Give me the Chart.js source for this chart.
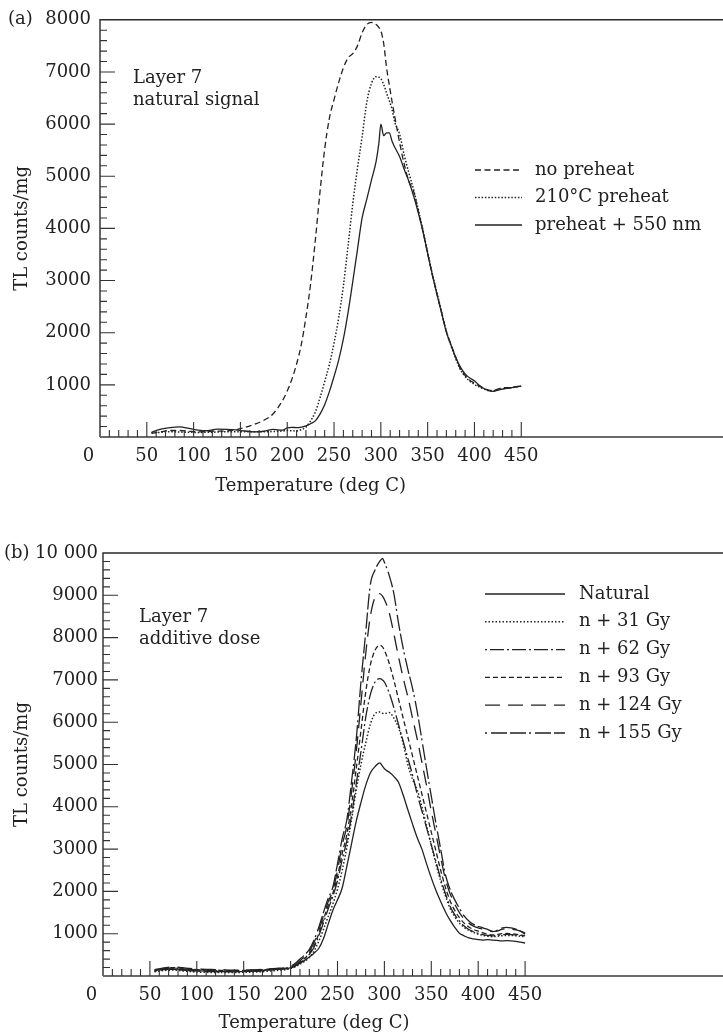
<!DOCTYPE html>
<html>
<head>
<meta charset="utf-8">
<script src="https://cdn.jsdelivr.net/npm/chart.js@4/dist/chart.umd.min.js"></script>
<style>
  body { margin: 0; background: #fff; }
  canvas { position: absolute; left: 0; }
  #chartA { top: 0; }
  #chartB { top: 520px; }
</style>
</head>
<body>
<canvas id="chartA" width="723" height="510"></canvas>
<canvas id="chartB" width="723" height="515"></canvas>
<script>
// Glow curves, layer 7 (TL counts/mg against temperature)

const xTickValues = [0, 50, 100, 150, 200, 250, 300, 350, 400, 450];

// (a) natural signal
const tempA = [55, 65, 75, 85, 95, 105, 115, 125, 135, 145, 155, 165, 175, 185, 195,
  200, 205, 210, 215, 220, 225, 230, 235, 240, 245, 250, 255, 260, 265, 270, 275, 280, 285, 290, 295,
  298, 300, 303, 306, 309, 312,
  315, 320, 325, 330, 335, 340, 345, 350, 355, 360, 365, 370, 375, 380, 385, 390, 395, 400, 405, 410,
  415, 420, 425, 430, 435, 440, 445, 450];

const noPreheat = [70, 100, 125, 125, 110, 100, 105, 113, 115, 140, 185, 245, 320, 447, 700,
  880, 1110, 1400, 1770, 2300, 2940, 3770, 4700, 5520, 6110, 6470, 6800, 7080, 7270, 7350, 7500, 7750, 7910, 7950, 7910,
  7850, 7790, 7550, 7100, 6750, 6430,
  6130, 5650, 5230, 4900, 4710, 4330, 3940, 3520, 3110, 2740, 2380, 2020, 1770, 1530, 1310, 1180, 1090, 1035, 980, 935,
  900, 890, 920, 945, 945, 950, 965, 985];

const preheat210 = [80, 90, 100, 95, 90, 88, 90, 95, 100, 100, 100, 100, 100, 105, 115,
  125, 120, 115, 140, 190, 310, 480, 750, 1060, 1390, 1800, 2290, 2900, 3670, 4470, 5150, 5760, 6420, 6780, 6910,
  6900, 6870, 6760, 6600, 6450, 6280,
  6030, 5810, 5400, 5060, 4740, 4360, 3970, 3540, 3130, 2760, 2390, 2030, 1750, 1500, 1290, 1160, 1070, 1010, 960, 920,
  890, 880, 905, 925, 935, 945, 960, 975];

const preheat550 = [90, 150, 180, 195, 165, 130, 120, 150, 145, 135, 115, 100, 110, 145, 130,
  175, 185, 180, 190, 215, 255, 310, 440, 620, 870, 1160, 1480, 1880, 2390, 2980, 3590, 4200, 4560, 4930, 5290,
  5650, 6000, 5780, 5830, 5830, 5670,
  5550, 5380, 5130, 4900, 4620, 4300, 3940, 3520, 3110, 2730, 2370, 2010, 1760, 1530, 1340, 1210, 1130, 1080, 990, 930,
  890, 875, 900, 920, 935, 945, 960, 975];

// (b) additive dose
const tempB = [55, 65, 75, 85, 95, 105, 115, 125, 135, 145, 155, 165, 175, 185, 195,
  200, 205, 210, 215, 220, 225, 230, 235, 240, 245, 250, 255, 260, 265, 270, 275, 280, 285, 290, 295,
  298,
  300, 305, 310, 315, 320, 325, 330, 335, 340, 345, 350, 355, 360, 365, 370, 375, 380, 385, 390, 395,
  400, 405, 410, 415, 420, 425, 430, 435, 440, 445, 450];

const natural = [130, 160, 170, 150, 130, 120, 115, 110, 110, 105, 110, 115, 140, 160, 170,
  200, 240, 300, 370, 450, 540, 650, 880, 1220, 1550, 1800, 2080, 2600, 3130, 3660, 4100, 4500, 4800, 4950, 5040,
  4960,
  4900, 4820, 4720, 4580, 4280, 3930, 3590, 3270, 3000, 2650, 2320, 2020, 1760, 1520, 1320, 1150, 1010, 950, 900, 880,
  860, 850, 860, 850, 840, 830, 835, 830, 820, 800, 780];

const dose31 = [100, 130, 140, 120, 100, 90, 85, 85, 80, 85, 90, 95, 110, 130, 150,
  180, 220, 280, 350, 440, 590, 820, 1100, 1400, 1700, 2050, 2500, 3050, 3700, 4400, 5000, 5500, 5950, 6200, 6240,
  6210,
  6200, 6230, 6100, 5880, 5500, 5000, 4650, 4400, 4000, 3550, 3100, 2650, 2250, 1900, 1600, 1400, 1250, 1150, 1080, 1030,
  990, 960, 940, 930, 940, 950, 960, 960, 950, 940, 930];

const dose62 = [120, 170, 190, 170, 150, 140, 130, 120, 115, 120, 125, 130, 150, 165, 175,
  190, 240, 310, 400, 510, 680, 950, 1260, 1580, 1880, 2250, 2750, 3200, 3800, 4550, 5300, 6100, 6650, 6950, 7030,
  7000,
  6950, 6700, 6350, 5950, 5550, 5150, 4750, 4300, 3900, 3500, 3100, 2700, 2300, 1950, 1650, 1450, 1300, 1180, 1100, 1050,
  1010, 980, 960, 950, 960, 975, 985, 980, 970, 960, 940];

const dose93 = [140, 180, 200, 180, 160, 150, 140, 135, 125, 130, 135, 140, 160, 175, 185,
  200, 250, 330, 420, 540, 720, 1000, 1330, 1660, 1950, 2350, 2900, 3350, 4050, 4900, 5800, 6700, 7350, 7700, 7820,
  7780,
  7700, 7400, 7000, 6550, 6100, 5650, 5200, 4750, 4300, 3850, 3400, 2950, 2500, 2100, 1780, 1550, 1380, 1250, 1160, 1100,
  1060, 1020, 990, 970, 980, 1000, 1010, 1000, 990, 970, 950];

const dose124 = [150, 190, 215, 195, 175, 160, 155, 145, 140, 140, 145, 150, 165, 180, 195,
  210, 270, 360, 460, 580, 790, 1080, 1420, 1750, 2020, 2500, 3100, 3550, 4350, 5300, 6450, 7600, 8500, 8950, 9040,
  8980,
  8900, 8600, 8100, 7550, 7050, 6600, 6100, 5600, 5050, 4500, 3900, 3350, 2800, 2300, 1950, 1700, 1500, 1350, 1250, 1180,
  1140, 1110, 1080, 1050, 1060, 1100, 1120, 1110, 1090, 1060, 1020];

const dose155 = [110, 150, 160, 140, 120, 110, 105, 100, 100, 105, 110, 120, 140, 160, 180,
  230, 300, 400, 500, 630, 850, 1150, 1500, 1830, 2100, 2650, 3250, 3700, 4600, 5600, 6950, 8100, 9250, 9600, 9800,
  9870,
  9780, 9480, 9050, 8350, 7750, 7250, 6800, 6250, 5580, 4900, 4250, 3600, 3000, 2400, 2050, 1800, 1600, 1420, 1300, 1220,
  1170, 1140, 1100, 1060, 1080, 1130, 1150, 1140, 1110, 1060, 990];

const SERIF = '"DejaVu Serif", "Liberation Serif", serif';
const INK = '#222';
const tickFont = { family: SERIF, size: 18 };

function series(label, temps, values, dash, width) {
    return {
        label: label,
        data: temps.map((t, i) => ({ x: t, y: values[i] })),
        borderColor: INK,
        borderWidth: width || 1.3,
        borderDash: dash,
        pointRadius: 0,
        fill: false,
        cubicInterpolationMode: 'monotone'
    };
}

// frame, inward ticks, notes, legend and axis titles
const panelDecor = {
    id: 'panelDecor',
    afterDraw(chart, args, o) {
        const { ctx, chartArea: a, scales: { x, y } } = chart;
        ctx.save();

        ctx.strokeStyle = '#2a2a2a';
        ctx.lineWidth = 1.4;
        ctx.beginPath();
        ctx.moveTo(a.right, a.top);
        ctx.lineTo(a.left, a.top);
        ctx.lineTo(a.left, a.bottom);
        ctx.stroke();

        ctx.strokeStyle = '#6a6a6a';
        ctx.lineWidth = 2;
        ctx.beginPath();
        ctx.moveTo(a.left, a.bottom);
        ctx.lineTo(a.right, a.bottom);
        ctx.stroke();

        ctx.strokeStyle = '#333';
        ctx.lineWidth = 1.1;
        ctx.beginPath();
        for (let t = 10; t <= 450; t += 10) {
            const px = x.getPixelForValue(t);
            const len = t % 50 === 0 ? 15 : 7;
            ctx.moveTo(px, a.bottom);
            ctx.lineTo(px, a.bottom - len);
        }
        for (let v = 200; v < y.max; v += 200) {
            const py = y.getPixelForValue(v);
            const len = v % 1000 === 0 ? 15 : 7;
            ctx.moveTo(a.left, py);
            ctx.lineTo(a.left + len, py);
        }
        ctx.stroke();

        ctx.fillStyle = INK;
        ctx.font = '18px ' + SERIF;
        ctx.textBaseline = 'middle';
        ctx.textAlign = 'left';
        ctx.fillText(o.tag, o.tagX, a.top);
        o.notes.forEach((s, i) => ctx.fillText(s, o.noteX, o.noteY + i * 22));

        chart.data.datasets.forEach((ds, i) => {
            const ly = o.legendY + i * o.legendStep;
            ctx.setLineDash(ds.borderDash || []);
            ctx.lineWidth = ds.borderWidth;
            ctx.strokeStyle = ds.borderColor;
            ctx.beginPath();
            ctx.moveTo(o.legendX0, ly);
            ctx.lineTo(o.legendX1, ly);
            ctx.stroke();
            ctx.setLineDash([]);
            ctx.fillText(ds.label, o.legendX1 + o.legendGap, ly);
        });

        ctx.textAlign = 'center';
        ctx.fillText('Temperature (deg C)', x.getPixelForValue(225), o.xTitleY);
        ctx.translate(22, (a.top + a.bottom) / 2);
        ctx.rotate(-Math.PI / 2);
        ctx.fillText('TL counts/mg', 0, 0);
        ctx.restore();
    }
};

function makeChart(canvasId, cfg) {
    return new Chart(document.getElementById(canvasId), {
        type: 'line',
        data: { datasets: cfg.datasets },
        options: {
            responsive: false,
            animation: false,
            layout: { padding: { top: cfg.top, right: 0, left: 0, bottom: 0 } },
            plugins: {
                legend: { display: false },
                tooltip: { enabled: false },
                panelDecor: cfg.decor
            },
            scales: {
                x: {
                    type: 'linear',
                    min: 0,
                    max: cfg.xMax,
                    afterBuildTicks: s => { s.ticks = xTickValues.map(v => ({ value: v })); },
                    afterFit: s => { s.height = cfg.xAxisHeight; },
                    grid: { display: false, drawTicks: false },
                    border: { display: false },
                    ticks: {
                        font: tickFont, color: INK, padding: 9, maxRotation: 0, autoSkip: false,
                        // the zero sits a little left of the axis corner, so pad it on the right
                        callback: v => v === 0 ? '0\u2007\u2007' : String(v)
                    }
                },
                y: {
                    min: 0,
                    max: cfg.yMax,
                    afterFit: s => { s.width = cfg.yAxisWidth; },
                    grid: { display: false, drawTicks: false },
                    border: { display: false },
                    ticks: {
                        stepSize: 1000, font: tickFont, color: INK, padding: cfg.yPad,
                        callback: v => v === 0 ? '' : (v === 10000 ? '10 000' : String(v))
                    }
                }
            }
        },
        plugins: [panelDecor]
    });
}

makeChart('chartA', {
    top: 14, xMax: 665.5, yMax: 8000, xAxisHeight: 73, yAxisWidth: 100, yPad: 9,
    datasets: [
        series('no preheat', tempA, noPreheat, [6, 3.5]),
        series('210°C preheat', tempA, preheat210, [1.5, 1.8], 1.5),
        series('preheat + 550 nm', tempA, preheat550, [])
    ],
    decor: {
        tag: '(a)', tagX: 8,
        notes: ['Layer 7', 'natural signal'], noteX: 133, noteY: 78,
        legendX0: 475, legendX1: 522, legendGap: 13, legendY: 170, legendStep: 27.5,
        xTitleY: 486
    }
});

makeChart('chartB', {
    top: 33, xMax: 661, yMax: 10000, xAxisHeight: 59, yAxisWidth: 103, yPad: 5,
    datasets: [
        series('Natural', tempB, natural, []),
        series('n + 31 Gy', tempB, dose31, [1.5, 2], 1.5),
        series('n + 62 Gy', tempB, dose62, [2, 3, 14, 3]),
        series('n + 93 Gy', tempB, dose93, [5, 3]),
        series('n + 124 Gy', tempB, dose124, [15, 8]),
        series('n + 155 Gy', tempB, dose155, [2, 4, 16, 3, 16, 3])
    ],
    decor: {
        tag: '(b)', tagX: 4,
        notes: ['Layer 7', 'additive dose'], noteX: 139, noteY: 97,
        legendX0: 485, legendX1: 565, legendGap: 14, legendY: 74, legendStep: 27.8,
        xTitleY: 503
    }
});
</script>
</body>
</html>
